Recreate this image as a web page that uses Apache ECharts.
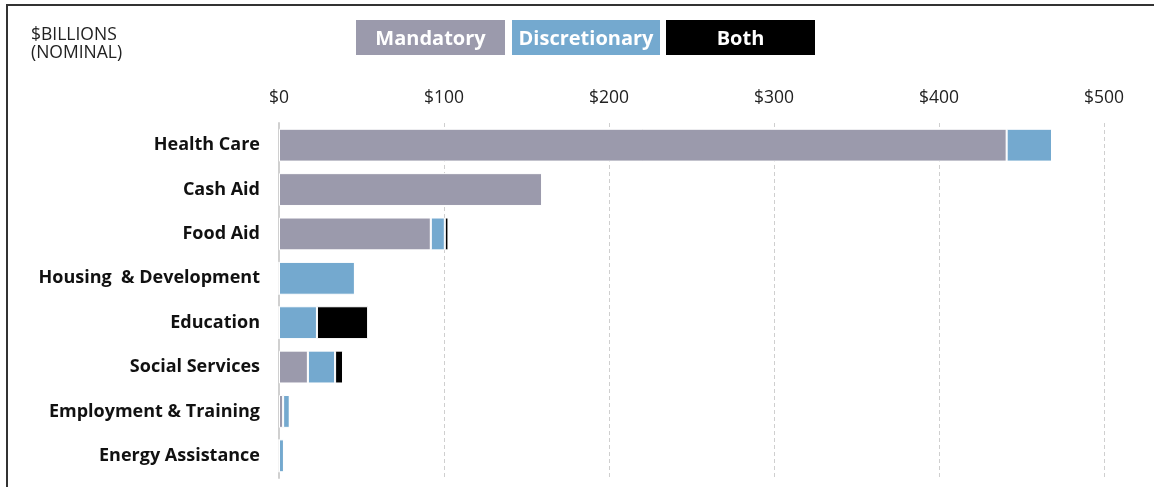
<!DOCTYPE html>
<html>
<head>
<meta charset="utf-8">
<script src="https://cdn.jsdelivr.net/npm/echarts@6/dist/echarts.min.js"></script>
<style>
  html, body { margin: 0; padding: 0; background: #fff; }
  #chart { width: 1154px; height: 487px; }
</style>
</head>
<body>
<div id="chart"></div>
<script>
// program categories, top to bottom
var categories = ['Health Care', 'Cash Aid', 'Food Aid', 'Housing  & Development', 'Education',
    'Social Services', 'Employment & Training', 'Energy Assistance'];
// $ billions
var mandatory = [441, 159.5, 92, 0, 0, 17.5, 2.5, 0];
var discretionary = [27.5, 0, 8.5, 46, 23, 16.5, 4, 3];
var both = [0, 0, 2.2, 0, 31, 4.8, 0, 0];
var tickLabels = ['$0', '$100', '$200', '$300', '$400', '$500'];

var colors = {mandatory: '#9b9aac', discretionary: '#74a9cf', both: '#000000'};
var fontFam = '"Open Sans", sans-serif';

var chart = echarts.init(document.getElementById('chart'));

function seg(name, data, color) {
    return {
        name: name,
        type: 'bar',
        stack: 'total',
        barWidth: '74%',
        data: data,
        itemStyle: {color: color, borderColor: '#fff', borderWidth: 1},
        emphasis: {disabled: true}
    };
}

// legend boxes with text inside
function legendBox(x, w, label, color) {
    return {
        type: 'group', left: x, top: 20,
        children: [
            {type: 'rect', shape: {x: 0, y: 0, width: w, height: 35}, style: {fill: color}},
            {type: 'text', x: w / 2, y: 19, style: {text: label, fill: '#fff', font: 'bold 20px ' + fontFam, align: 'center', verticalAlign: 'middle'}}
        ]
    };
}

var option = {
    animation: false,
    grid: {left: 279, right: 50, top: 123, bottom: 9, containLabel: false},
    xAxis: {
        type: 'value',
        position: 'top',
        min: 0, max: 500, interval: 100,
        axisLine: {show: false},
        axisTick: {show: false},
        axisLabel: {
            margin: 16,
            color: '#222',
            fontSize: 17.5,
            fontFamily: fontFam,
            formatter: function (v) { return tickLabels[v / 100]; }
        },
        splitLine: {show: true, lineStyle: {color: '#cfcfcf', type: [4, 3], width: 1}}
    },
    yAxis: {
        type: 'category',
        inverse: true,
        data: categories,
        axisLine: {show: true, lineStyle: {color: '#d0d0d0', width: 2}},
        axisTick: {show: false},
        axisLabel: {margin: 19, color: '#111', fontSize: 18, fontWeight: 'bold', fontFamily: fontFam, padding: [6, 0, 0, 0]}
    },
    series: [
        seg('Mandatory', mandatory, colors.mandatory),
        seg('Discretionary', discretionary, colors.discretionary),
        seg('Both', both, colors.both)
    ],
    graphic: [
        {type: 'polyline', shape: {points: [[7, 487], [7, 5], [1154, 5]]}, style: {stroke: '#333', lineWidth: 2, fill: null}},
        {type: 'text', left: 31, top: 26, style: {text: '$BILLIONS\n(NOMINAL)', fill: '#222', font: '17.5px ' + fontFam, lineHeight: 18}},
        legendBox(356, 149, 'Mandatory', colors.mandatory),
        legendBox(512, 148, 'Discretionary', colors.discretionary),
        legendBox(666, 149, 'Both', colors.both)
    ]
};
chart.setOption(option);
</script>
</body>
</html>
